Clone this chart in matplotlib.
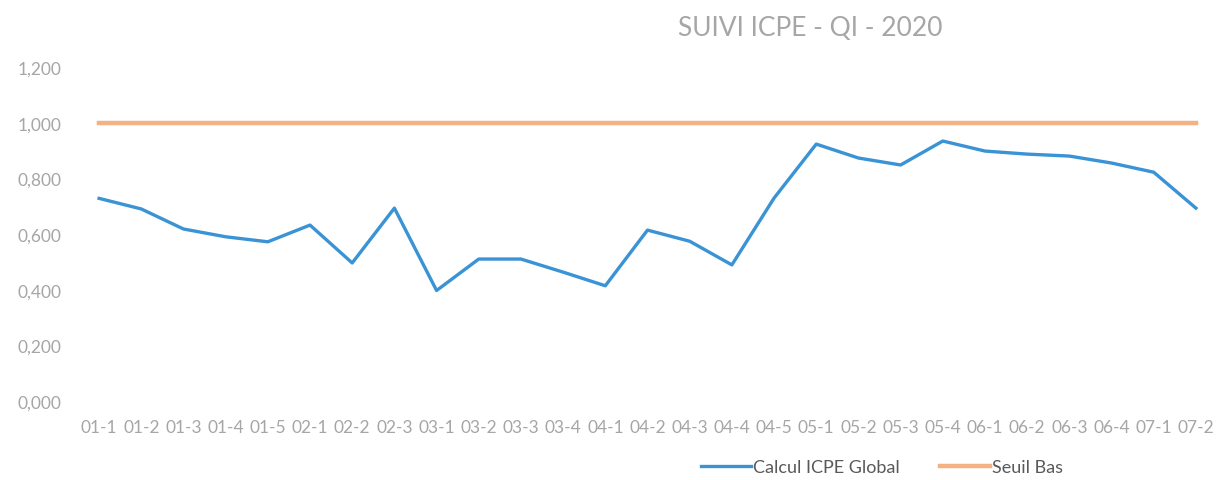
import matplotlib.pyplot as plt
import matplotlib
from matplotlib.ticker import FuncFormatter

matplotlib.rcParams['font.family'] = ['Lato', 'DejaVu Sans']

periodes = ['01-1', '01-2', '01-3', '01-4', '01-5', '02-1', '02-2', '02-3',
            '03-1', '03-2', '03-3', '03-4', '04-1', '04-2', '04-3', '04-4',
            '04-5', '05-1', '05-2', '05-3', '05-4', '06-1', '06-2', '06-3',
            '06-4', '07-1', '07-2']
icpe = [0.728, 0.690, 0.618, 0.590, 0.572, 0.632, 0.496, 0.693,
        0.397, 0.510, 0.510, 0.463, 0.414, 0.614, 0.574, 0.489,
        0.729, 0.923, 0.873, 0.848, 0.934, 0.898, 0.887, 0.880,
        0.855, 0.822, 0.693]
seuil = [1.0] * len(periodes)

gris = '#a6a6a6'
x = list(range(len(periodes)))

fig = plt.figure(figsize=(12.17, 4.81), dpi=100)
ax = fig.add_axes([78 / 1217, 1 - 402 / 481, 1 - 78 / 1217, (402 - 68) / 481])

ax.plot(x, icpe, color='#3a93d4', linewidth=2.4, label='Calcul ICPE Global')
ax.plot(x, seuil, color='#f4b183', linewidth=3.2, label='Seuil Bas')

ax.set_xlim(-0.5, len(periodes) - 0.5)
ax.set_ylim(0, 1.2)
ax.set_yticks([0, 0.2, 0.4, 0.6, 0.8, 1.0, 1.2])
ax.yaxis.set_major_formatter(FuncFormatter(lambda v, p: f"{v:.3f}".replace('.', ',')))
ax.set_xticks(x)
ax.set_xticklabels(periodes)
ax.tick_params(axis='both', length=0, colors=gris, labelsize=12.5)
ax.tick_params(axis='x', pad=13)
ax.tick_params(axis='y', pad=12)
for s in ax.spines.values():
    s.set_visible(False)

fig.text(810 / 1217, 1 - 28 / 481, 'SUIVI ICPE - QI - 2020', color=gris,
         fontsize=19, ha='center', va='center')

fig.legend(loc='center', bbox_to_anchor=(882 / 1217, 1 - 468 / 481), ncol=2,
           frameon=False, fontsize=13, labelcolor='#595959',
           handlelength=2.8, columnspacing=2.2, handletextpad=0.1)

fig.savefig('out.png', dpi=100)
